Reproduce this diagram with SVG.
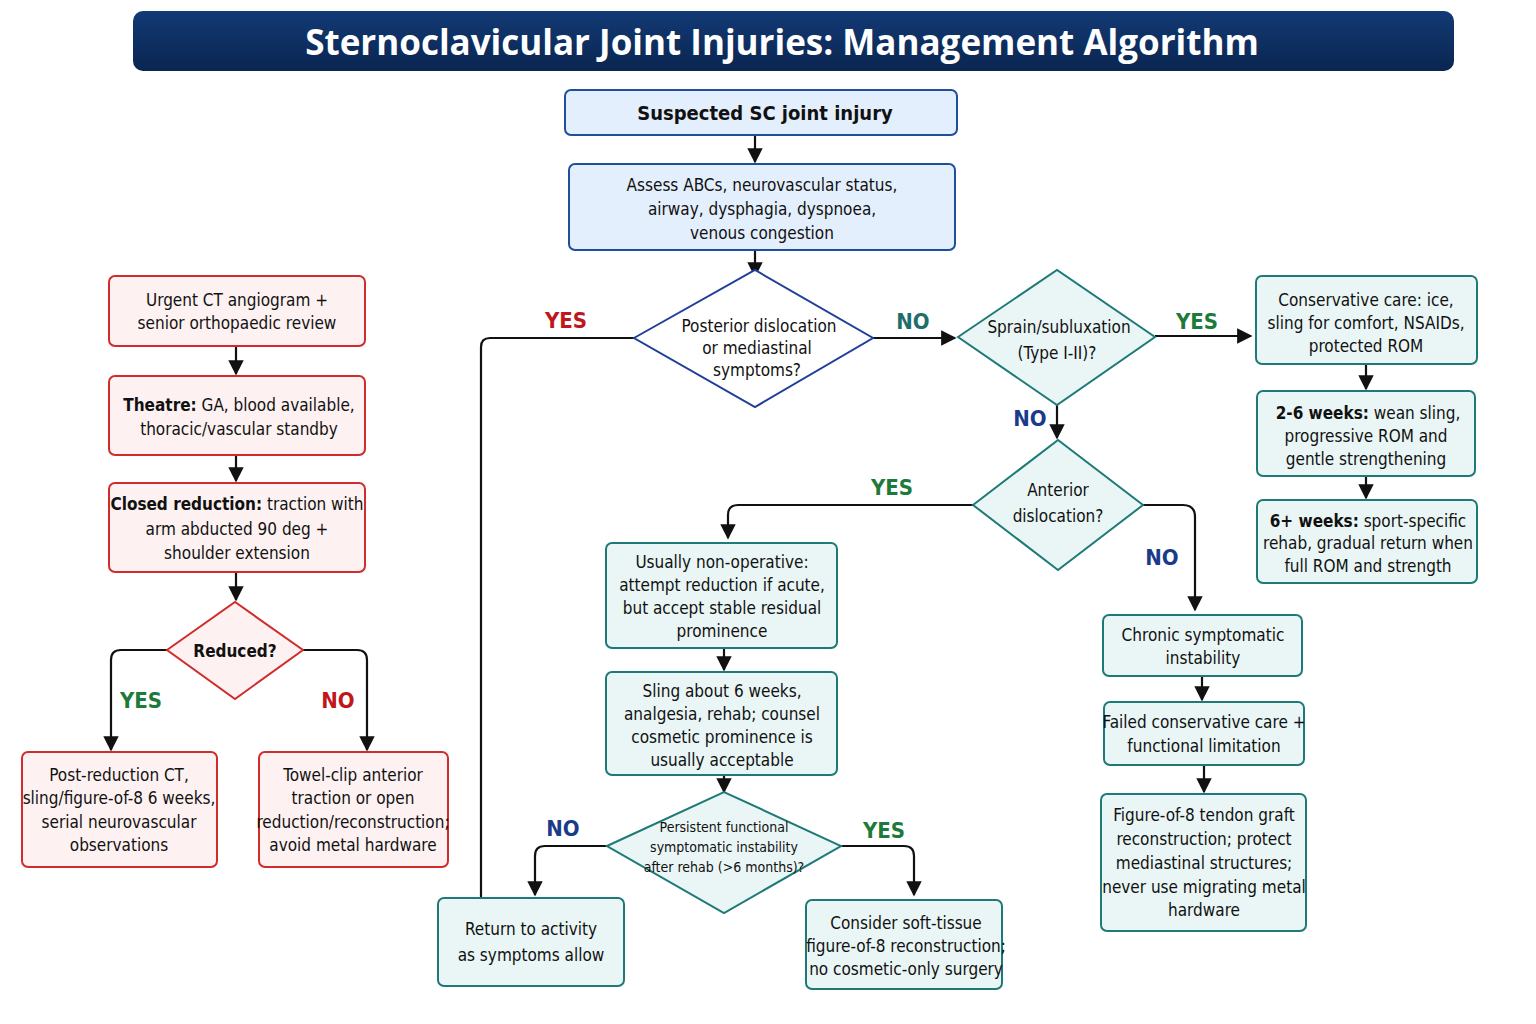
<svg xmlns="http://www.w3.org/2000/svg" width="1536" height="1024" viewBox="0 0 1536 1024">
<defs>
<linearGradient id="tg" x1="0" y1="0" x2="0" y2="1"><stop offset="0" stop-color="#123a75"/><stop offset="1" stop-color="#0a2550"/></linearGradient>
<marker id="ah" viewBox="0 0 10 10" refX="9" refY="5" markerWidth="7" markerHeight="7" orient="auto"><path d="M0,0 L10,5 L0,10 z" fill="#111"/></marker>
</defs>
<style>
text{font-family:"DejaVu Sans Condensed","DejaVu Sans","Liberation Sans",sans-serif;font-size:17px;fill:#111;text-anchor:middle}
.b{fill:#e3effc;stroke:#1f4e9a;stroke-width:2}
.r{fill:#fdf1f1;stroke:#d02c2c;stroke-width:2}
.t{fill:#e9f6f5;stroke:#1e7a78;stroke-width:2}
.c line,.c path{stroke:#111;stroke-width:2.2;fill:none}
.a{marker-end:url(#ah)}
.bold{font-weight:bold}
.lg{font-size:22px;font-weight:bold}
.yr{fill:#c0161c}.yg{fill:#1e7a3a}.nb{fill:#1a3a8a}.nt{fill:#1e6e6a}
</style>
<rect width="1536" height="1024" fill="#fff"/>
<g id="title"><rect x="133" y="11" width="1321" height="60" rx="10" fill="url(#tg)"/>
<text x="782" y="55" style="font-family:'Open Sans','DejaVu Sans',sans-serif;font-size:35px;font-weight:bold;fill:#fff">Sternoclavicular Joint Injuries: Management Algorithm</text></g>
<g class="c" id="connectors">
<line class="a" x1="755" y1="135" x2="755" y2="162"/>
<line class="a" x1="755" y1="250" x2="755" y2="276"/>
<path d="M634,338 H490 Q481,338 481,347 V898"/>
<line class="a" x1="873" y1="338" x2="955" y2="338"/>
<line class="a" x1="1155" y1="336" x2="1251" y2="336"/>
<line class="a" x1="1366" y1="364" x2="1366" y2="389"/>
<line class="a" x1="1366" y1="476" x2="1366" y2="498"/>
<line class="a" x1="1057" y1="405" x2="1057" y2="438"/>
<path class="a" d="M973,505 H738 Q728,505 728,515 V538"/>
<path class="a" d="M1143,505 H1183 Q1195,505 1195,517 V610"/>
<line class="a" x1="724" y1="648" x2="724" y2="670"/>
<line class="a" x1="724" y1="775" x2="724" y2="792"/>
<path class="a" d="M607,846 H545 Q535,846 535,856 V895"/>
<path class="a" d="M841,846 H904 Q914,846 914,856 V895"/>
<line class="a" x1="1202" y1="676" x2="1202" y2="700"/>
<line class="a" x1="1204" y1="765" x2="1204" y2="792"/>
<line class="a" x1="236" y1="346" x2="236" y2="374"/>
<line class="a" x1="236" y1="455" x2="236" y2="481"/>
<line class="a" x1="236" y1="572" x2="236" y2="600"/>
<path class="a" d="M167,650 H121 Q111,650 111,660 V750"/>
<path class="a" d="M303,650 H357 Q367,650 367,660 V750"/>
</g>
<g id="labels">
<text x="566" y="328" class="lg yr">YES</text>
<text x="913" y="329" class="lg nt">NO</text>
<text x="1197" y="329" class="lg yg">YES</text>
<text x="1030" y="426" class="lg nb">NO</text>
<text x="892" y="495" class="lg yg">YES</text>
<text x="1162" y="565" class="lg nb">NO</text>
<text x="563" y="836" class="lg nb">NO</text>
<text x="884" y="838" class="lg yg">YES</text>
<text x="141" y="708" class="lg yg">YES</text>
<text x="338" y="708" class="lg yr">NO</text>
</g>
<g id="n1"><rect class="b" x="565" y="90" width="392" height="45" rx="6"/><text x="765" y="120" style="font-size:20px;font-weight:bold">Suspected SC joint injury</text></g>
<g id="n2"><rect class="b" x="569" y="164" width="386" height="86" rx="6"/><text x="762" y="191">Assess ABCs, neurovascular status,</text><text x="762" y="215">airway, dysphagia, dyspnoea,</text><text x="762" y="239">venous congestion</text></g>
<g id="d1"><polygon points="634,338 755,270 873,338 755,407" fill="#fff" stroke="#1f3f9a" stroke-width="2"/><text x="759" y="332">Posterior dislocation</text><text x="757" y="354">or mediastinal</text><text x="757" y="376">symptoms?</text></g>
<g id="d2"><polygon class="t" points="958,337 1057,270 1155,337 1057,405"/><text x="1059" y="333">Sprain/subluxation</text><text x="1057" y="359">(Type I-II)?</text></g>
<g id="r1"><rect class="t" x="1256" y="276" width="221" height="88" rx="6"/><text x="1366" y="306">Conservative care: ice,</text><text x="1366" y="329">sling for comfort, NSAIDs,</text><text x="1366" y="352">protected ROM</text></g>
<g id="r2"><rect class="t" x="1257" y="391" width="218" height="85" rx="6"/><text x="1368" y="419"><tspan class="bold">2-6 weeks:</tspan> wean sling,</text><text x="1366" y="442">progressive ROM and</text><text x="1366" y="465">gentle strengthening</text></g>
<g id="r3"><rect class="t" x="1257" y="500" width="220" height="83" rx="6"/><text x="1368" y="527"><tspan class="bold">6+ weeks:</tspan> sport-specific</text><text x="1368" y="549">rehab, gradual return when</text><text x="1368" y="572">full ROM and strength</text></g>
<g id="d3"><polygon class="t" points="973,505 1058,440 1143,505 1058,570"/><text x="1058" y="496">Anterior</text><text x="1058" y="522">dislocation?</text></g>
<g id="c1"><rect class="t" x="606" y="543" width="231" height="105" rx="6"/><text x="722" y="568">Usually non-operative:</text><text x="722" y="591">attempt reduction if acute,</text><text x="722" y="614">but accept stable residual</text><text x="722" y="637">prominence</text></g>
<g id="c2"><rect class="t" x="606" y="672" width="231" height="103" rx="6"/><text x="722" y="697">Sling about 6 weeks,</text><text x="722" y="720">analgesia, rehab; counsel</text><text x="722" y="743">cosmetic prominence is</text><text x="722" y="766">usually acceptable</text></g>
<g id="d4"><polygon class="t" points="607,846 724,792 841,846 724,913"/><text x="724" y="832" style="font-size:14px">Persistent functional</text><text x="724" y="852" style="font-size:14px">symptomatic instability</text><text x="724" y="872" style="font-size:14px">after rehab (&gt;6 months)?</text></g>
<g id="ret"><rect class="t" x="438" y="898" width="186" height="88" rx="6"/><text x="531" y="935">Return to activity</text><text x="531" y="961">as symptoms allow</text></g>
<g id="cons"><rect class="t" x="806" y="900" width="196" height="89" rx="6"/><text x="906" y="929">Consider soft-tissue</text><text x="906" y="952">figure-of-8 reconstruction;</text><text x="906" y="975">no cosmetic-only surgery</text></g>
<g id="f1"><rect class="t" x="1103" y="615" width="199" height="61" rx="6"/><text x="1203" y="641">Chronic symptomatic</text><text x="1203" y="664">instability</text></g>
<g id="f2"><rect class="t" x="1104" y="702" width="200" height="63" rx="6"/><text x="1204" y="728">Failed conservative care +</text><text x="1204" y="752">functional limitation</text></g>
<g id="f3"><rect class="t" x="1101" y="794" width="205" height="137" rx="6"/><text x="1204" y="821">Figure-of-8 tendon graft</text><text x="1204" y="845">reconstruction; protect</text><text x="1204" y="869">mediastinal structures;</text><text x="1204" y="893">never use migrating metal</text><text x="1204" y="916">hardware</text></g>
<g id="l1"><rect class="r" x="109" y="276" width="256" height="70" rx="6"/><text x="237" y="306">Urgent CT angiogram +</text><text x="237" y="329">senior orthopaedic review</text></g>
<g id="l2"><rect class="r" x="109" y="376" width="256" height="79" rx="6"/><text x="239" y="411"><tspan class="bold">Theatre:</tspan> GA, blood available,</text><text x="239" y="435">thoracic/vascular standby</text></g>
<g id="l3"><rect class="r" x="109" y="483" width="256" height="89" rx="6"/><text x="237" y="510"><tspan class="bold">Closed reduction:</tspan> traction with</text><text x="237" y="535">arm abducted 90 deg +</text><text x="237" y="559">shoulder extension</text></g>
<g id="d5"><polygon class="r" points="167,650 235,602 303,650 235,699"/><text x="235" y="657" style="font-weight:bold">Reduced?</text></g>
<g id="l4"><rect class="r" x="22" y="752" width="195" height="115" rx="6"/><text x="119" y="781">Post-reduction CT,</text><text x="119" y="804">sling/figure-of-8 6 weeks,</text><text x="119" y="828">serial neurovascular</text><text x="119" y="851">observations</text></g>
<g id="l5"><rect class="r" x="259" y="752" width="189" height="115" rx="6"/><text x="353" y="781">Towel-clip anterior</text><text x="353" y="804">traction or open</text><text x="353" y="828">reduction/reconstruction;</text><text x="353" y="851">avoid metal hardware</text></g>
</svg>
